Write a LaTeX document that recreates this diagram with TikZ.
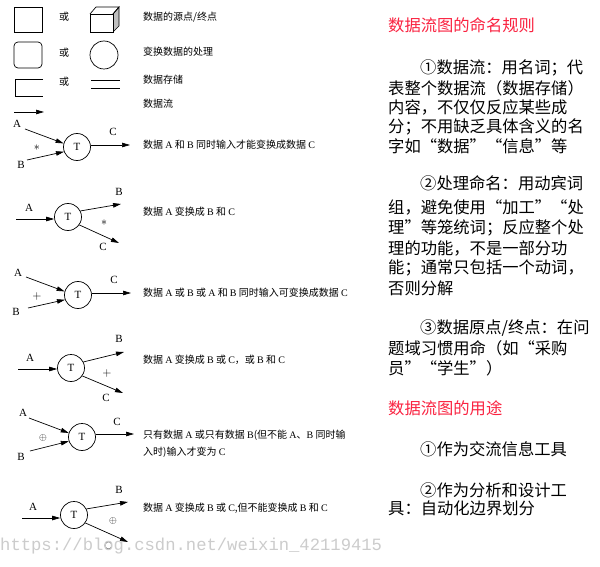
\documentclass[tikz,border=0pt]{standalone}
\usepackage{fontspec}
\setmainfont{Liberation Serif}
\newfontfamily\cjk{Noto Sans CJK SC}
\newfontfamily\wmfont{Liberation Mono}
\usetikzlibrary{arrows.meta}
\definecolor{headred}{RGB}{250,35,65}
\newcommand\lat[1]{{\rmfamily #1}}
\begin{document}
\begin{tikzpicture}[x=1pt,y=-1pt,
  lw/.style={line width=0.7pt},
  flow/.style={lw,-{Triangle[length=8pt,width=4.5pt]}},
  proc/.style={circle,draw,lw,minimum size=27pt,inner sep=0pt,font=\fontsize{11}{12}\selectfont},
  lbl/.style={inner sep=0pt,font=\fontsize{11}{12}\selectfont},
  op/.style={inner sep=0pt,font=\fontsize{13}{14}\selectfont},
  cn/.style={anchor=west,inner sep=0pt,font=\cjk\fontsize{10}{12}\selectfont},
  para/.style={anchor=west,inner sep=0pt,font=\cjk\fontsize{16.3}{20}\selectfont},
  head/.style={para,text=headred}]
\useasboundingbox (0,0) rectangle (600,567);
\fill[white] (0,0) rectangle (600,567);

% ---------- legend ----------
\draw[lw] (14,7) rectangle (42,32);
\node[cn] (or1) at (59,17) {或};
\draw[lw,fill=black!25] (113,14) -- (119,7) -- (119,26) -- (113,32) -- cycle;
\draw[lw] (90,14) -- (96,7) -- (119,7) -- (113,14);
\draw[lw,fill=white] (90,14) rectangle (113,32);
\node[cn] (t1l) at (143,17) {数据的源点/终点};

\draw[lw,rounded corners=4pt] (14,42) rectangle (42,68);
\node[cn] (or2) at (59,53) {或};
\draw[lw] (104,55) circle (14);
\node[cn] (t2l) at (143,52) {变换数据的处理};

\draw[lw] (43,79) -- (15,79) -- (15,96) -- (43,96);
\node[cn] (or3) at (59,82) {或};
\draw[lw] (91,80) -- (120,80);
\draw[lw] (91,88) -- (120,88);
\node[cn] (t3l) at (143,80) {数据存储};

\coordinate (fs) at (14,112);
\coordinate (fe) at (44,112);
\draw[flow] (fs) -- (fe);
\node[cn] (t4l) at (143,104) {数据流};

% ---------- diagram 1 ----------
\node[proc] (T1) at (77,147) {T};
\node[lbl] (A1) at (17,124) {A};
\node[lbl] (B1) at (21,165) {B};
\node[lbl] (C1) at (113,132) {C};
\node[op] (s1) at (37,148) {$\ast$};
\coordinate (a1) at (25,129);
\coordinate (b1) at (27,160);
\coordinate (c1) at (130,145);
\draw[flow] (a1) -- (T1.165);
\draw[flow] (b1) -- (T1.200);
\draw[flow] (T1.east|-c1) -- (c1);
\node[cn] (d1) at (143,145) {数据 \lat{A} 和 \lat{B} 同时输入才能变换成数据 \lat{C}};

% ---------- diagram 2 ----------
\node[proc] (T2) at (68,217) {T};
\node[lbl] (A2) at (29,208) {A};
\node[lbl] (B2) at (119,192) {B};
\node[lbl] (C2) at (103,247) {C};
\node[op] (s2) at (104,223) {$\ast$};
\coordinate (a2) at (16,219);
\coordinate (b2) at (121,204);
\coordinate (c2) at (119,243);
\draw[flow] (a2) -- (T2.west|-a2);
\draw[flow] (T2.26) -- (b2);
\draw[flow] (T2.-35) -- (c2);
\node[cn] (d2) at (143,212) {数据 \lat{A} 变换成 \lat{B} 和 \lat{C}};

% ---------- diagram 3 ----------
\node[proc] (T3) at (78,295) {T};
\node[lbl] (A3) at (18,273) {A};
\node[lbl] (B3) at (16,312) {B};
\node[lbl] (C3) at (114,280) {C};
\node[op] (s3) at (37,296) {$+$};
\coordinate (a3) at (26,277);
\coordinate (b3) at (28,308);
\coordinate (c3) at (131,293);
\draw[flow] (a3) -- (T3.165);
\draw[flow] (b3) -- (T3.200);
\draw[flow] (T3.east|-c3) -- (c3);
\node[cn] (d3) at (143,293) {数据 \lat{A} 或 \lat{B} 或 \lat{A} 和 \lat{B} 同时输入可变换成数据 \lat{C}};

% ---------- diagram 4 ----------
\node[proc] (T4) at (71,368) {T};
\node[lbl] (A4) at (30,358) {A};
\node[lbl] (B4) at (119,339) {B};
\node[lbl] (C4) at (106,398) {C};
\node[op] (s4) at (107,373) {$+$};
\coordinate (a4) at (18,369);
\coordinate (b4) at (124,352);
\coordinate (c4) at (123,393);
\draw[flow] (a4) -- (T4.west|-a4);
\draw[flow] (T4.26) -- (b4);
\draw[flow] (T4.-35) -- (c4);
\node[cn] (d4) at (143,360) {数据 \lat{A} 变换成 \lat{B} 或 \lat{C}，或 \lat{B} 和 \lat{C}};

% ---------- diagram 5 ----------
\node[proc] (T5) at (82,437) {T};
\node[lbl] (A5) at (23,413) {A};
\node[lbl] (B5) at (21,457) {B};
\node[lbl] (C5) at (117,422) {C};
\node[op,font=\fontsize{10}{12}\selectfont] (s5) at (43,438) {$\oplus$};
\coordinate (a5) at (29,418);
\coordinate (b5) at (30,451);
\coordinate (c5) at (134,434);
\draw[flow] (a5) -- (T5.163);
\draw[flow] (b5) -- (T5.198);
\draw[flow] (T5.east|-c5) -- (c5);
\node[cn] (d5a) at (143,435) {只有数据 \lat{A} 或只有数据 \lat{B}(但不能 \lat{A}、\lat{B} 同时输};
\node[cn] (d5b) at (143,452) {入时)输入才变为 \lat{C}};

% ---------- diagram 6 ----------
\node[proc] (T6) at (74,515) {T};
\node[lbl] (A6) at (33,507) {A};
\node[lbl] (B6) at (119,490) {B};
\node[lbl] (C6) at (108,546) {C};
\node[op,font=\fontsize{10}{12}\selectfont] (s6) at (113,521) {$\oplus$};
\coordinate (a6) at (22,518);
\coordinate (b6) at (128,502);
\coordinate (c6) at (128,542);
\draw[flow] (a6) -- (T6.west|-a6);
\draw[flow] (T6.26) -- (b6);
\draw[flow] (T6.-35) -- (c6);
\node[cn] (d6) at (143,508) {数据 \lat{A} 变换成 \lat{B} 或 \lat{C},但不能变换成 \lat{B} 和 \lat{C}};

% ---------- watermark ----------
\node[anchor=west,inner sep=0pt,text=black!20,font=\wmfont\fontsize{17.2}{18}\selectfont] (wm) at (0,546) {https://blog.csdn.net/weixin\_42119415};

% ---------- right column ----------
\node[head] (h1) at (388,25) {数据流图的命名规则};
\node[para] (p1) at (420,68) {①数据流：用名词；代};
\node[para] (p2) at (388,88) {表整个数据流（数据存储）};
\node[para] (p3) at (388,107) {内容，不仅仅反应某些成};
\node[para] (p4) at (388,127) {分；不用缺乏具体含义的名};
\node[para] (p5) at (388,146) {字如“数据”“信息”等};
\node[para] (q1) at (420,183) {②处理命名：用动宾词};
\node[para] (q2) at (388,207) {组，避免使用“加工”“处};
\node[para] (q3) at (388,228) {理”等笼统词；反应整个处};
\node[para] (q4) at (388,248) {理的功能，不是一部分功};
\node[para] (q5) at (388,268) {能；通常只包括一个动词，};
\node[para] (q6) at (388,288) {否则分解};
\node[para] (r1) at (420,328) {③数据原点/终点：在问};
\node[para] (r2) at (388,348) {题域习惯用命（如“采购};
\node[para] (r3) at (388,368) {员”“学生”）};
\node[head] (h2) at (388,408) {数据流图的用途};
\node[para] (u1) at (420,449) {①作为交流信息工具};
\node[para] (u2) at (420,490) {②作为分析和设计工};
\node[para] (u3) at (388,508) {具：自动化边界划分};
\end{tikzpicture}
\end{document}
